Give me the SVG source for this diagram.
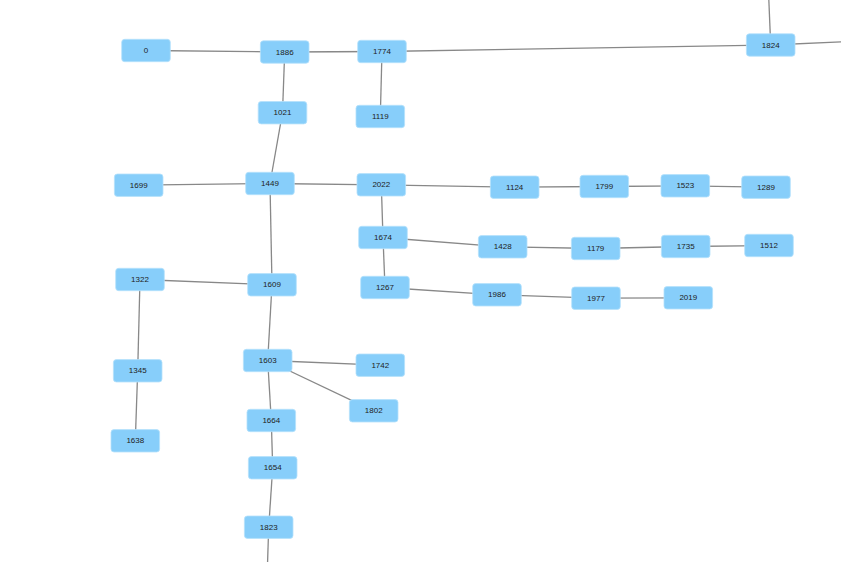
<svg xmlns="http://www.w3.org/2000/svg" width="841" height="562" viewBox="0 0 841 562">
<style>
.n rect{fill:#87cefa;stroke:#b5e1fb;stroke-width:0.8}
.n text{font-family:"Liberation Sans",Arial,sans-serif;font-size:8px;fill:#222;text-anchor:middle;dominant-baseline:central}
.e line{stroke:#888;stroke-width:1.3}
</style>
<rect width="841" height="562" fill="#fff"/>
<g id="edges" class="e">
<line x1="146" y1="50.5" x2="284.7" y2="52"/>
<line x1="284.7" y1="52" x2="382" y2="51.5"/>
<line x1="382" y1="51.5" x2="770.7" y2="45"/>
<line x1="770.7" y1="45" x2="768" y2="-20"/>
<line x1="770.7" y1="45" x2="860" y2="41"/>
<line x1="284.7" y1="52" x2="282.5" y2="112.7"/>
<line x1="382" y1="51.5" x2="380.3" y2="116.5"/>
<line x1="282.5" y1="112.7" x2="270" y2="183.5"/>
<line x1="270" y1="183.5" x2="138.7" y2="185.2"/>
<line x1="270" y1="183.5" x2="381.3" y2="184.8"/>
<line x1="270" y1="183.5" x2="272" y2="284.8"/>
<line x1="381.3" y1="184.8" x2="514.7" y2="187.2"/>
<line x1="514.7" y1="187.2" x2="604.3" y2="186.5"/>
<line x1="604.3" y1="186.5" x2="685.3" y2="185.8"/>
<line x1="685.3" y1="185.8" x2="766" y2="187.2"/>
<line x1="381.3" y1="184.8" x2="383" y2="237.5"/>
<line x1="383" y1="237.5" x2="502.7" y2="246.8"/>
<line x1="502.7" y1="246.8" x2="595.7" y2="248.5"/>
<line x1="595.7" y1="248.5" x2="685.7" y2="246.5"/>
<line x1="685.7" y1="246.5" x2="769" y2="245.5"/>
<line x1="383" y1="237.5" x2="385" y2="287.5"/>
<line x1="385" y1="287.5" x2="497" y2="294.8"/>
<line x1="497" y1="294.8" x2="596" y2="298.2"/>
<line x1="596" y1="298.2" x2="688.3" y2="297.8"/>
<line x1="272" y1="284.8" x2="140" y2="279.5"/>
<line x1="140" y1="279.5" x2="137.7" y2="370.8"/>
<line x1="137.7" y1="370.8" x2="135.3" y2="440.8"/>
<line x1="272" y1="284.8" x2="267.7" y2="360.5"/>
<line x1="267.7" y1="360.5" x2="380.3" y2="365.2"/>
<line x1="267.7" y1="360.5" x2="373.7" y2="410.8"/>
<line x1="267.7" y1="360.5" x2="271.3" y2="420.5"/>
<line x1="271.3" y1="420.5" x2="272.7" y2="467.8"/>
<line x1="272.7" y1="467.8" x2="268.7" y2="527.2"/>
<line x1="268.7" y1="527.2" x2="267" y2="580"/>
</g>
<g id="n0" class="n" transform="translate(146,50.5)"><rect x="-24.3" y="-11.2" width="48.6" height="22.4" rx="3"/><text>0</text></g>
<g id="n1886" class="n" transform="translate(284.7,52)"><rect x="-24.3" y="-11.2" width="48.6" height="22.4" rx="3"/><text>1886</text></g>
<g id="n1774" class="n" transform="translate(382,51.5)"><rect x="-24.3" y="-11.2" width="48.6" height="22.4" rx="3"/><text>1774</text></g>
<g id="n1824" class="n" transform="translate(770.7,45)"><rect x="-24.3" y="-11.2" width="48.6" height="22.4" rx="3"/><text>1824</text></g>
<g id="n1021" class="n" transform="translate(282.5,112.7)"><rect x="-24.3" y="-11.2" width="48.6" height="22.4" rx="3"/><text>1021</text></g>
<g id="n1119" class="n" transform="translate(380.3,116.5)"><rect x="-24.3" y="-11.2" width="48.6" height="22.4" rx="3"/><text>1119</text></g>
<g id="n1699" class="n" transform="translate(138.7,185.2)"><rect x="-24.3" y="-11.2" width="48.6" height="22.4" rx="3"/><text>1699</text></g>
<g id="n1449" class="n" transform="translate(270,183.5)"><rect x="-24.3" y="-11.2" width="48.6" height="22.4" rx="3"/><text>1449</text></g>
<g id="n2022" class="n" transform="translate(381.3,184.8)"><rect x="-24.3" y="-11.2" width="48.6" height="22.4" rx="3"/><text>2022</text></g>
<g id="n1124" class="n" transform="translate(514.7,187.2)"><rect x="-24.3" y="-11.2" width="48.6" height="22.4" rx="3"/><text>1124</text></g>
<g id="n1799" class="n" transform="translate(604.3,186.5)"><rect x="-24.3" y="-11.2" width="48.6" height="22.4" rx="3"/><text>1799</text></g>
<g id="n1523" class="n" transform="translate(685.3,185.8)"><rect x="-24.3" y="-11.2" width="48.6" height="22.4" rx="3"/><text>1523</text></g>
<g id="n1289" class="n" transform="translate(766,187.2)"><rect x="-24.3" y="-11.2" width="48.6" height="22.4" rx="3"/><text>1289</text></g>
<g id="n1674" class="n" transform="translate(383,237.5)"><rect x="-24.3" y="-11.2" width="48.6" height="22.4" rx="3"/><text>1674</text></g>
<g id="n1428" class="n" transform="translate(502.7,246.8)"><rect x="-24.3" y="-11.2" width="48.6" height="22.4" rx="3"/><text>1428</text></g>
<g id="n1179" class="n" transform="translate(595.7,248.5)"><rect x="-24.3" y="-11.2" width="48.6" height="22.4" rx="3"/><text>1179</text></g>
<g id="n1735" class="n" transform="translate(685.7,246.5)"><rect x="-24.3" y="-11.2" width="48.6" height="22.4" rx="3"/><text>1735</text></g>
<g id="n1512" class="n" transform="translate(769,245.5)"><rect x="-24.3" y="-11.2" width="48.6" height="22.4" rx="3"/><text>1512</text></g>
<g id="n1322" class="n" transform="translate(140,279.5)"><rect x="-24.3" y="-11.2" width="48.6" height="22.4" rx="3"/><text>1322</text></g>
<g id="n1609" class="n" transform="translate(272,284.8)"><rect x="-24.3" y="-11.2" width="48.6" height="22.4" rx="3"/><text>1609</text></g>
<g id="n1267" class="n" transform="translate(385,287.5)"><rect x="-24.3" y="-11.2" width="48.6" height="22.4" rx="3"/><text>1267</text></g>
<g id="n1986" class="n" transform="translate(497,294.8)"><rect x="-24.3" y="-11.2" width="48.6" height="22.4" rx="3"/><text>1986</text></g>
<g id="n1977" class="n" transform="translate(596,298.2)"><rect x="-24.3" y="-11.2" width="48.6" height="22.4" rx="3"/><text>1977</text></g>
<g id="n2019" class="n" transform="translate(688.3,297.8)"><rect x="-24.3" y="-11.2" width="48.6" height="22.4" rx="3"/><text>2019</text></g>
<g id="n1345" class="n" transform="translate(137.7,370.8)"><rect x="-24.3" y="-11.2" width="48.6" height="22.4" rx="3"/><text>1345</text></g>
<g id="n1638" class="n" transform="translate(135.3,440.8)"><rect x="-24.3" y="-11.2" width="48.6" height="22.4" rx="3"/><text>1638</text></g>
<g id="n1603" class="n" transform="translate(267.7,360.5)"><rect x="-24.3" y="-11.2" width="48.6" height="22.4" rx="3"/><text>1603</text></g>
<g id="n1742" class="n" transform="translate(380.3,365.2)"><rect x="-24.3" y="-11.2" width="48.6" height="22.4" rx="3"/><text>1742</text></g>
<g id="n1802" class="n" transform="translate(373.7,410.8)"><rect x="-24.3" y="-11.2" width="48.6" height="22.4" rx="3"/><text>1802</text></g>
<g id="n1664" class="n" transform="translate(271.3,420.5)"><rect x="-24.3" y="-11.2" width="48.6" height="22.4" rx="3"/><text>1664</text></g>
<g id="n1654" class="n" transform="translate(272.7,467.8)"><rect x="-24.3" y="-11.2" width="48.6" height="22.4" rx="3"/><text>1654</text></g>
<g id="n1823" class="n" transform="translate(268.7,527.2)"><rect x="-24.3" y="-11.2" width="48.6" height="22.4" rx="3"/><text>1823</text></g>
</svg>
